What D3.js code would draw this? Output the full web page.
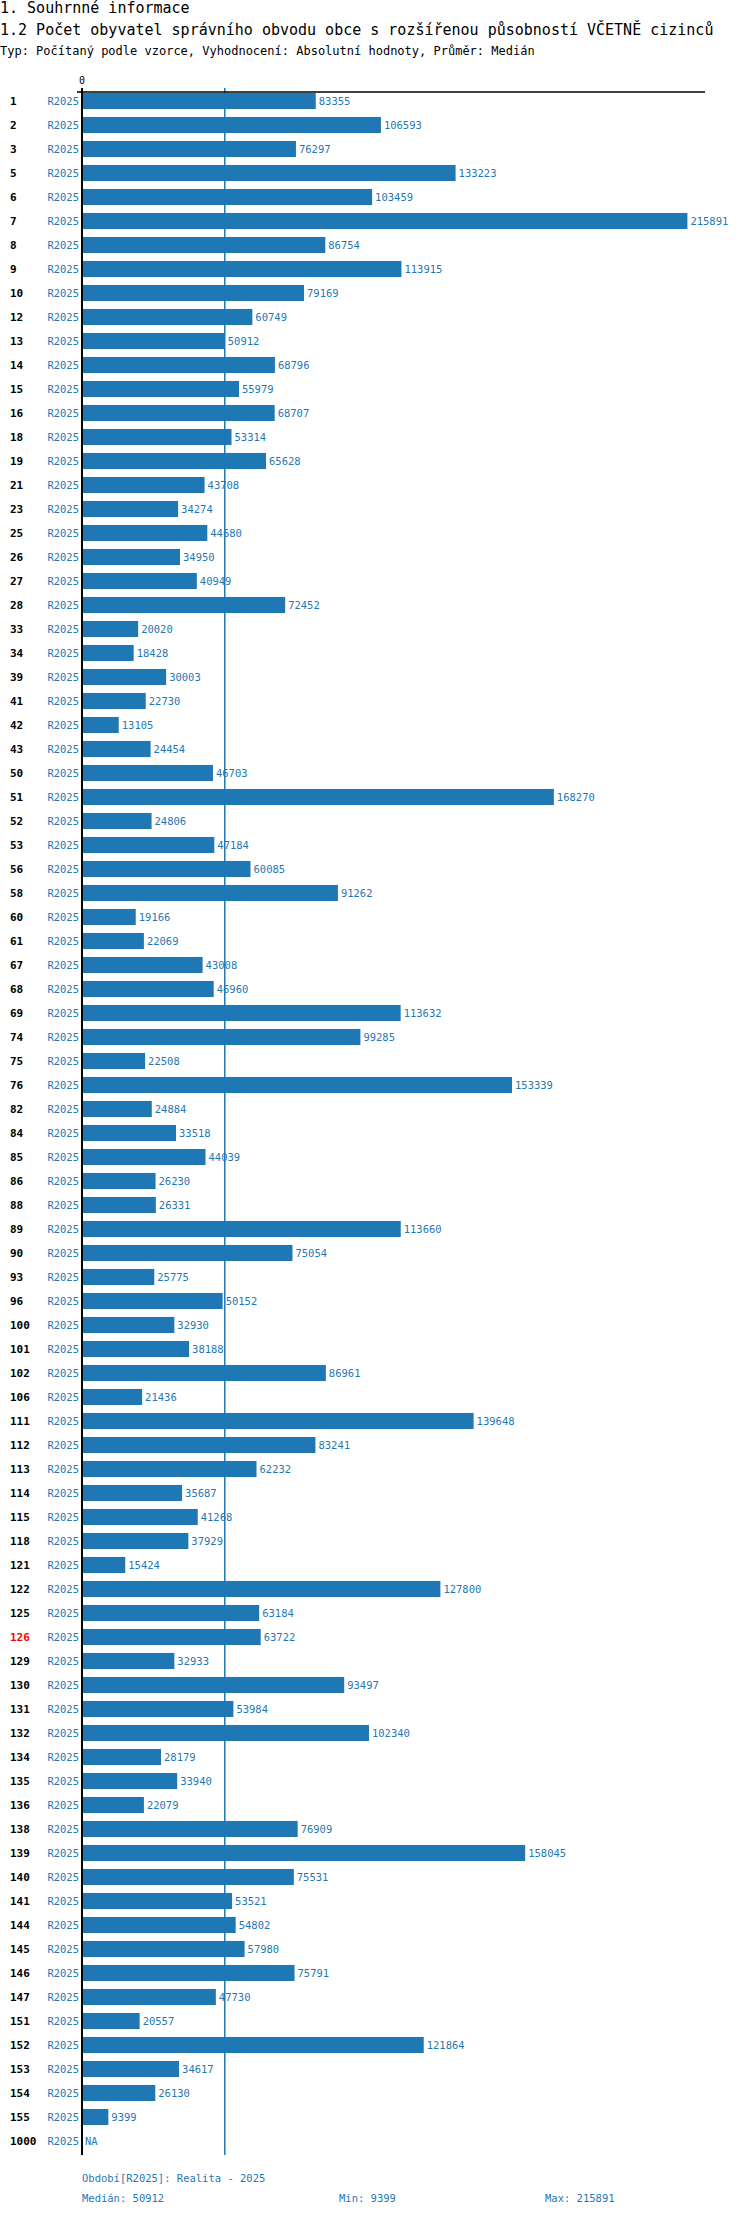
<!DOCTYPE html>
<html><head><meta charset="utf-8">
<script src="https://cdn.jsdelivr.net/npm/d3@7"></script>
<style>body{margin:0;background:#fff}text{font-family:"DejaVu Sans Mono",monospace}</style>
</head><body>
<script>
const codes = [1,2,3,5,6,7,8,9,10,12,13,14,15,16,18,19,21,23,25,26,27,28,33,34,39,41,42,43,50,51,52,53,56,58,60,61,67,68,69,74,75,76,82,84,85,86,88,89,90,93,96,100,101,102,106,111,112,113,114,115,118,121,122,125,126,129,130,131,132,134,135,136,138,139,140,141,144,145,146,147,151,152,153,154,155,1000];
const values = [83355,106593,76297,133223,103459,215891,86754,113915,79169,60749,50912,68796,55979,68707,53314,65628,43708,34274,44680,34950,40949,72452,20020,18428,30003,22730,13105,24454,46703,168270,24806,47184,60085,91262,19166,22069,43008,46960,113632,99285,22508,153339,24884,33518,44039,26230,26331,113660,75054,25775,50152,32930,38188,86961,21436,139648,83241,62232,35687,41268,37929,15424,127800,63184,63722,32933,93497,53984,102340,28179,33940,22079,76909,158045,75531,53521,54802,57980,75791,47730,20557,121864,34617,26130,9399,null];
const period = 'R2025';
const highlight = 126;
const median = 50912;

const blue = '#1f77b4';
const svg = d3.select('body').append('svg').attr('width', 750).attr('height', 2216);

svg.append('text').attr('x', 0).attr('y', 13).attr('font-size', 15).text('1. Souhrnné informace');
svg.append('text').attr('x', 0).attr('y', 35).attr('font-size', 15).text('1.2 Počet obyvatel správního obvodu obce s rozšířenou působností VČETNĚ cizinců');
svg.append('text').attr('x', 0).attr('y', 55).attr('font-size', 12).text('Typ: Počítaný podle vzorce, Vyhodnocení: Absolutní hodnoty, Průměr: Medián');

const x = d3.scaleLinear().domain([0, 218600]).range([82, 695]);
const y = d3.scaleBand().domain(codes).range([89, 89 + 24 * codes.length]).paddingInner(0.33).paddingOuter(0.165);

svg.append('text').attr('x', x(0)).attr('y', 84).attr('text-anchor', 'middle').attr('font-size', 10).text('0');

const rows = svg.selectAll('g.row').data(codes.map((c, i) => ({c, v: values[i]}))).join('g');
rows.append('rect').attr('x', x(0)).attr('y', d => y(d.c)).attr('height', y.bandwidth())
  .attr('width', d => d.v == null ? 0 : x(d.v) - x(0)).attr('fill', blue);
rows.append('text').attr('x', 10).attr('y', d => y(d.c) + y.bandwidth() / 2 + 4)
  .attr('font-size', 11).attr('font-weight', 'bold')
  .attr('fill', d => d.c === highlight ? 'red' : '#000').text(d => d.c);
rows.append('text').attr('x', 79).attr('y', d => y(d.c) + y.bandwidth() / 2 + 4)
  .attr('text-anchor', 'end').attr('font-size', 10.5).attr('fill', blue).text(period);
rows.append('text').attr('x', d => (d.v == null ? x(0) : x(d.v)) + 3).attr('y', d => y(d.c) + y.bandwidth() / 2 + 4)
  .attr('font-size', 10.5).attr('fill', blue).text(d => d.v == null ? 'NA' : d.v);

const bottom = 89 + 24 * codes.length + 2;
svg.append('line').attr('x1', x(median)).attr('x2', x(median)).attr('y1', 88).attr('y2', bottom).attr('stroke', blue).attr('stroke-width', 1.5);
svg.append('line').attr('x1', 77).attr('x2', 705).attr('y1', 92).attr('y2', 92).attr('stroke', '#000').attr('stroke-width', 1.5);
svg.append('line').attr('x1', x(0)).attr('x2', x(0)).attr('y1', 88).attr('y2', bottom).attr('stroke', '#000').attr('stroke-width', 2);

svg.append('text').attr('x', 82).attr('y', 2182).attr('font-size', 10.5).attr('fill', blue).text('Období[R2025]: Realita - 2025');
svg.append('text').attr('x', 82).attr('y', 2202).attr('font-size', 10.5).attr('fill', blue).text('Medián: ' + median);
svg.append('text').attr('x', 339).attr('y', 2202).attr('font-size', 10.5).attr('fill', blue).text('Min: ' + d3.min(values));
svg.append('text').attr('x', 545).attr('y', 2202).attr('font-size', 10.5).attr('fill', blue).text('Max: ' + d3.max(values));
</script>
</body></html>
